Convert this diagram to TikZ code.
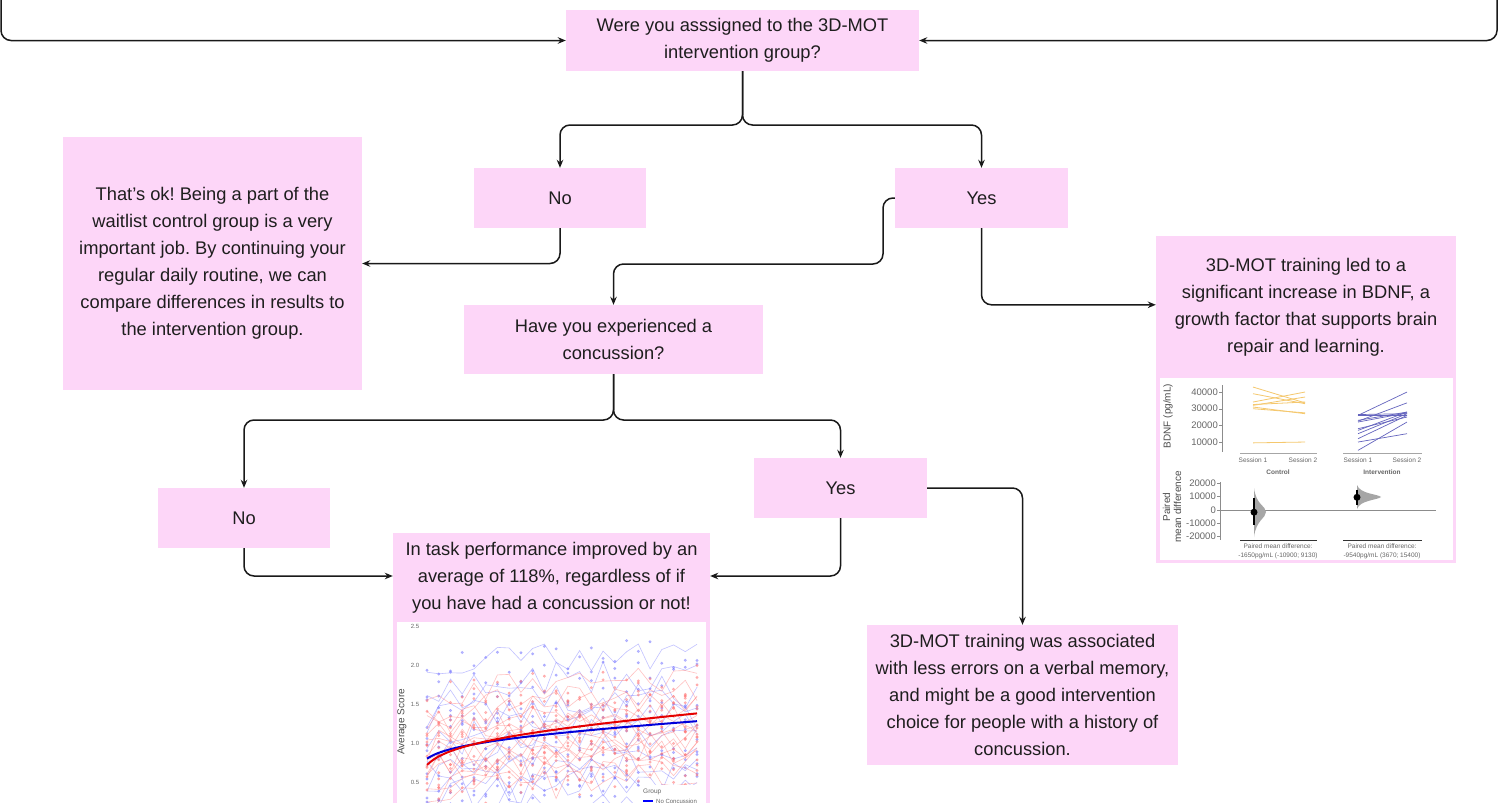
\documentclass[tikz,border=0pt]{standalone}
\usepackage{fontspec}
\setmainfont{Liberation Sans}
\usetikzlibrary{arrows.meta}
\frenchspacing
\definecolor{boxpink}{RGB}{253,214,248}
\definecolor{txt}{RGB}{30,30,30}
\definecolor{ctrlc}{RGB}{245,200,110}
\definecolor{intc}{RGB}{100,100,190}
\definecolor{sblue}{RGB}{120,120,255}
\definecolor{sred}{RGB}{255,120,120}
\begin{document}
\begin{tikzpicture}[x=1pt,y=-1pt,
  box/.style={fill=boxpink, draw=none, inner sep=0pt, align=center, text=txt,
    font=\fontsize{18.3}{27}\selectfont},
  btxt/.style={inner sep=0pt, align=center, text=txt, font=\fontsize{18.3}{27}\selectfont},
  conn/.style={draw=black!90, line width=1.5pt, rounded corners=10pt, -{Stealth[length=8pt,width=6.5pt]}},
  tick/.style={font=\fontsize{9.5}{10}\selectfont, text=black!60, inner sep=1pt},
  small/.style={font=\fontsize{6.5}{8}\selectfont, text=black!60, inner sep=0pt},
]
\useasboundingbox (0,0) rectangle (1502,803);
\fill[white] (0,0) rectangle (1502,803);

% ---------- nodes ----------
\node[box, minimum width=353pt, minimum height=61pt] (q1) at (742.5,40.5)
  {Were you asssigned to the 3D-MOT\\intervention group?};
\node[box, minimum width=172pt, minimum height=60pt] (no1) at (560,198) {No};
\node[box, minimum width=173pt, minimum height=60pt] (yes1) at (981.5,198) {Yes};
\node[box, minimum width=299pt, minimum height=253pt] (ctrl) at (212.5,263.5)
  {That’s ok! Being a part of the\\waitlist control group is a very\\important job. By continuing your\\regular daily routine, we can\\compare differences in results to\\the intervention group.};
\node[box, minimum width=299pt, minimum height=69pt] (q2) at (613.5,339.5)
  {Have you experienced a\\concussion?};
\node[box, minimum width=172pt, minimum height=60pt] (no2) at (244,518) {No};
\node[box, minimum width=173pt, minimum height=60pt] (yes2) at (840.5,488) {Yes};
\node[box, minimum width=317pt, minimum height=290pt, anchor=north] (task) at (551.5,533) {};
\node[btxt] (tasktxt) at (551.5,578)
  {In task performance improved by an\\average of 118\%, regardless of if\\you have had a concussion or not!};
\node[box, minimum width=300pt, minimum height=327pt] (bdnf) at (1306,399.5) {};
\node[btxt] (bdnftxt) at (1306,307)
  {3D-MOT training led to a\\significant increase in BDNF, a\\growth factor that supports brain\\repair and learning.};
\node[box, minimum width=311pt, minimum height=140pt] (mem) at (1022.5,695)
  {3D-MOT training was associated\\with less errors on a verbal memory,\\and might be a good intervention\\choice for people with a history of\\concussion.};

% ---------- connectors ----------
\coordinate (inL) at (1,-10);
\coordinate (inR) at (1497,-10);
\draw[conn] (inL) |- (q1.west);
\draw[conn] (inR) |- (q1.east);
\draw[conn] (q1.south) -- (742.5,125) -| (no1.north);
\draw[conn] (q1.south) -- (742.5,125) -| (yes1.north);
\draw[conn] (no1.south) |- (ctrl.east);
\draw[conn] (yes1.west) -| (883,264) -| (q2.north);
\draw[conn] (yes1.south) |- ([yshift=-69pt]bdnf.north west);
\draw[conn] (q2.south) -- (613.5,420) -| (no2.north);
\draw[conn] (q2.south) -- (613.5,420) -| (yes2.north);
\draw[conn] (no2.south) |- ([yshift=-43pt]task.north west);
\draw[conn] (yes2.south) |- ([yshift=-43pt]task.north east);
\draw[conn] (yes2.east) -| (mem.north);

% ---------- BDNF chart (values in thousands) ----------
\fill[white] (1160,378) rectangle (1453,560);
\draw[black!45] (1222,385) -- (1222,452);
\foreach \v in {10,20,30,40} {
  \draw[black!45] (1219,{458.7-\v/0.6}) -- (1222,{458.7-\v/0.6});
  \node[tick, anchor=east] at (1219,{458.7-\v/0.6}) {\v000};
}
\node[rotate=90, font=\fontsize{10}{10}\selectfont, text=black!70] at (1168,416) {BDNF (pg/mL)};
\foreach \a/\b in {43/33.5,39/33,34/40,32/37,31/27,30/27.5,32.5/34,9.5/10}
  \draw[ctrlc, line width=0.8pt] (1253,{458.7-\a/0.6}) -- (1305,{458.7-\b/0.6});
\foreach \a/\b in {5/22,10/15,12/26,15/27,17/28,18/25,22/27.5,22.5/33.5,23/28,26/40,26.5/27,26/26}
  \draw[intc, line width=0.7pt] (1358,{458.7-\a/0.6}) -- (1407,{458.7-\b/0.6});
\draw[black!35] (1240,453) -- (1317,453);
\draw[black!35] (1343,453) -- (1422,453);
\node[small] at (1253,460) {Session 1};
\node[small] at (1303,460) {Session 2};
\node[small] at (1358,460) {Session 1};
\node[small] at (1407,460) {Session 2};
\node[small, font=\fontsize{6.5}{8}\selectfont\bfseries] at (1278,472) {Control};
\node[small, font=\fontsize{6.5}{8}\selectfont\bfseries] at (1382,472) {Intervention};
% lower panel
\draw[black!45] (1220,482) -- (1220,540);
\foreach \v/\l in {20/20000,10/10000,0/0,-10/-10000,-20/-20000} {
  \draw[black!45] (1217,{510-\v/0.75}) -- (1220,{510-\v/0.75});
  \node[tick, anchor=east] at (1217,{510-\v/0.75}) {\l};
}
\node[rotate=90, align=center, font=\fontsize{10}{11}\selectfont, text=black!70] at (1172,507) {Paired\\mean difference};
\draw[black!45] (1220,510) -- (1436,510);
\fill[black!35] (1254,488) .. controls (1256,505) and (1266,506) .. (1266,512) .. controls (1266,518) and (1256,520) .. (1254,537) -- cycle;
\draw[black, line width=1.4pt] (1254,497.8) -- (1254,524.5);
\fill[black] (1254,512.2) circle (3.5);
\fill[black!35] (1357,485) .. controls (1360,494) and (1378,494) .. (1381,497) .. controls (1378,500) and (1360,500) .. (1357,509) -- cycle;
\draw[black, line width=1.4pt] (1357,489.5) -- (1357,505);
\fill[black] (1357,497.3) circle (3.5);
\draw[black!80, line width=1pt] (1240,540) -- (1317,540);
\draw[black!80, line width=1pt] (1343,540) -- (1422,540);
\node[small] at (1278,546) {Paired mean difference:};
\node[small] at (1278,555.5) {-1650pg/mL (-10900; 9130)};
\node[small] at (1382,546) {Paired mean difference:};
\node[small] at (1382,555.5) {-9540pg/mL (3670; 15400)};

% ---------- score chart ----------
\fill[white] (397,622) rectangle (706,810);
\foreach \v/\l in {2.5/2.5,2.0/2.0,1.5/1.5,1.0/1.0,0.5/0.5}
  \node[small, font=\fontsize{6}{6}\selectfont] at (415,{821-78*\v}) {\l};
\node[rotate=90, font=\fontsize{10}{10}\selectfont, text=black!70] at (402,722) {Average Score};
\pgfmathsetseed{11}
\foreach \b in {2.1,1.85,1.6,1.45,1.3,1.15,1.0,0.85,0.7,0.55,0.45,0.3}
  \draw[sblue, opacity=0.45, line width=0.6pt] plot[domain=0:23, samples=24, mark=*, mark size=1.2pt]
    ({427+\x*11.74}, {821-78*(\b-0.2+0.25*ln(1+\x)/3.18+0.22*rand)});
\foreach \b in {1.75,1.6,1.5,1.4,1.3,1.2,1.1,1.0,0.9,0.8,0.7,0.6,0.5,1.25,0.95}
  \draw[sred, opacity=0.45, line width=0.6pt] plot[domain=0:23, samples=24, mark=*, mark size=1.2pt]
    ({427+\x*11.74}, {821-78*(\b-0.25+0.3*ln(1+\x)/3.18+0.2*rand)});
\draw[blue!85!black, line width=2pt] plot[domain=0:23, samples=40, smooth]
  ({427+\x*11.74}, {821-78*(0.80+0.096*ln(1+\x)+0.0076*\x)});
\draw[red!90!black, line width=2pt] plot[domain=0:23, samples=40, smooth]
  ({427+\x*11.74}, {821-78*(0.72+0.1424*ln(1+\x)+0.009*\x)});
\fill[white] (640,785) rectangle (706,810);
\node[small, font=\fontsize{6.5}{7}\selectfont, anchor=west] at (643,792) {Group};
\draw[blue, line width=1.5pt] (643,801) -- (653,801);
\node[small, font=\fontsize{6}{6}\selectfont, anchor=west] at (656,801) {No Concussion};
\end{tikzpicture}
\end{document}
